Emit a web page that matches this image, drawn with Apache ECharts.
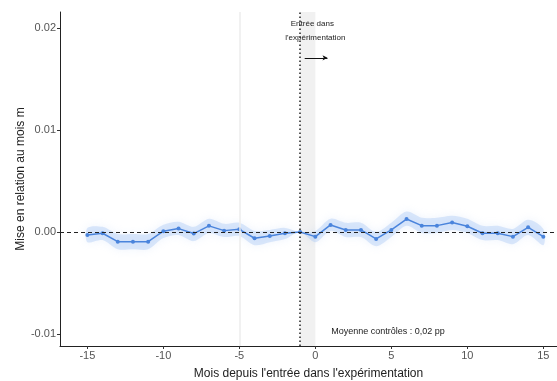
<!DOCTYPE html>
<html><head><meta charset="utf-8">
<script src="https://cdn.jsdelivr.net/npm/echarts@6/dist/echarts.min.js"></script>
<style>html,body{margin:0;padding:0;background:#fff}#c{width:557px;height:381px}</style>
</head><body><div id="c"></div>
<script>
const months = [-15,-14,-13,-12,-11,-10,-9,-8,-7,-6,-5,-4,-3,-2,-1,0,1,2,3,4,5,6,7,8,9,10,11,12,13,14,15];
const values = [-0.0003,-0.00013,-0.00095,-0.00095,-0.00095,0.00007,0.00033,-0.00016,0.0006,0.00013,0.00026,-0.00062,-0.0004,-0.00013,0,-0.00046,0.00069,0.0002,0.0002,-0.00069,0.0002,0.00127,0.00062,0.00062,0.00092,0.00056,-0.00013,-0.00013,-0.00046,0.00046,-0.00046];
const upper = [0.0004,0.0005,-0.0002,-0.0002,-0.0002,0.0007,0.001,0.0005,0.0013,0.0008,0.0009,0.0001,0.0002,0.0004,0,0.0001,0.0013,0.0009,0.0009,0.0000,0.0009,0.002,0.0014,0.0014,0.0016,0.0013,0.0006,0.0006,0.0003,0.0012,0.0003];
const lower = [-0.001,-0.0008,-0.0017,-0.0017,-0.0017,-0.0006,-0.0003,-0.0009,-0.0001,-0.0005,-0.0004,-0.0013,-0.001,-0.0007,0,-0.001,0.0001,-0.0005,-0.0005,-0.0014,-0.0005,0.0006,-0.0001,-0.0001,0.0002,-0.0001,-0.0008,-0.0008,-0.0012,-0.0003,-0.0013];
const xTicks = [-15,-10,-5,0,5,10,15];
const yTicks = [-0.01,0,0.01,0.02];
const entryMonth = -1;
const annotLine1 = 'Entrée dans';
const annotLine2 = "l'expérimentation";
const noteText = 'Moyenne contrôles : 0,02 pp';

const FONT = '"Liberation Sans", Arial, sans-serif';
const chart = echarts.init(document.getElementById('c'));
const opt = {
  animation: false,
  backgroundColor: '#fff',
  grid: {left: 60, right: 0, top: 12, bottom: 35, containLabel: false, outerBoundsMode: 'none'},
  xAxis: {
    type: 'value', min: -16.8, max: 15.9,
    name: "Mois depuis l'entrée dans l'expérimentation",
    nameLocation: 'middle', nameGap: 22, nameMoveOverlap: false,
    nameTextStyle: {fontFamily: FONT, fontSize: 12, color: '#222'},
    axisLine: {show: true, onZero: false, lineStyle: {color: '#222', width: 1}},
    axisTick: {show: true, customValues: xTicks, length: 3, lineStyle: {color: '#333'}},
    axisLabel: {customValues: xTicks, fontFamily: FONT, fontSize: 11, color: '#555', margin: 4},
    splitLine: {show: false}
  },
  yAxis: {
    type: 'value', min: -0.0112, max: 0.0216,
    name: 'Mise en relation au mois m',
    nameLocation: 'middle', nameGap: 33, nameRotate: 90, nameMoveOverlap: false,
    nameTextStyle: {fontFamily: FONT, fontSize: 12, color: '#222'},
    axisLine: {show: true, onZero: false, lineStyle: {color: '#222', width: 1}},
    axisTick: {show: true, customValues: yTicks, length: 3, lineStyle: {color: '#333'}},
    axisLabel: {customValues: yTicks, fontFamily: FONT, fontSize: 11, color: '#555', margin: 4,
      formatter: v => (Math.abs(v) < 1e-12 ? 0 : v).toFixed(2)},
    splitLine: {show: false}
  },
  series: [
    {
      type: 'custom', silent: true, z: 1,
      data: [[0, 0]],
      renderItem: function (params, api) {
        const pts = [];
        for (let i = 0; i < months.length; i++) pts.push(api.coord([months[i], upper[i]]));
        for (let i = months.length - 1; i >= 0; i--) pts.push(api.coord([months[i], lower[i]]));
        return {type: 'polygon', shape: {points: pts, smooth: 0.3},
          style: {fill: 'rgba(165,198,245,0.38)', shadowBlur: 9, shadowColor: 'rgba(165,198,245,0.5)'}};
      }
    },
    {
      type: 'line', z: 3,
      data: months.map((m, i) => [m, values[i]]),
      symbol: 'circle', symbolSize: 4,
      lineStyle: {color: '#4a84dc', width: 1.5},
      itemStyle: {color: '#4a84dc'},
      markArea: {silent: true, itemStyle: {color: 'rgba(220,220,220,0.4)'},
        data: [[{xAxis: entryMonth}, {xAxis: entryMonth + 1}]]},
      markLine: {
        silent: true, symbol: 'none', label: {show: false},
        data: [
          {xAxis: -5, lineStyle: {color: '#ececec', width: 1.5, type: 'solid'}},
          {yAxis: 0, lineStyle: {color: '#222', width: 1, type: [4, 3]}},
          {xAxis: entryMonth, lineStyle: {color: '#222', width: 1.5, type: [1.5, 2.5]}},
          [{coord: [-0.7, 0.0171], symbol: 'none', lineStyle: {color: '#111', width: 1, type: 'solid'}},
           {coord: [0.8, 0.0171], symbol: 'arrow', symbolSize: [4, 5]}]
        ]
      }
    }
  ]
};
chart.setOption(opt);
const p1 = chart.convertToPixel({gridIndex: 0}, [0, 0.0204]);
const p2 = chart.convertToPixel({gridIndex: 0}, [0, 0.0191]);
const p3 = chart.convertToPixel({gridIndex: 0}, [1.05, -0.0098]);
chart.setOption({graphic: [
  {type: 'text', x: p1[0] - 3, y: p1[1], z: 10, style: {text: annotLine1, font: '8px ' + FONT, fill: '#222', align: 'center', verticalAlign: 'middle'}},
  {type: 'text', x: p2[0], y: p2[1], z: 10, style: {text: annotLine2, font: '8px ' + FONT, fill: '#222', align: 'center', verticalAlign: 'middle'}},
  {type: 'text', x: p3[0], y: p3[1], z: 10, style: {text: noteText, font: '9px ' + FONT, fill: '#222', align: 'left', verticalAlign: 'middle'}}
]});
</script></body></html>
